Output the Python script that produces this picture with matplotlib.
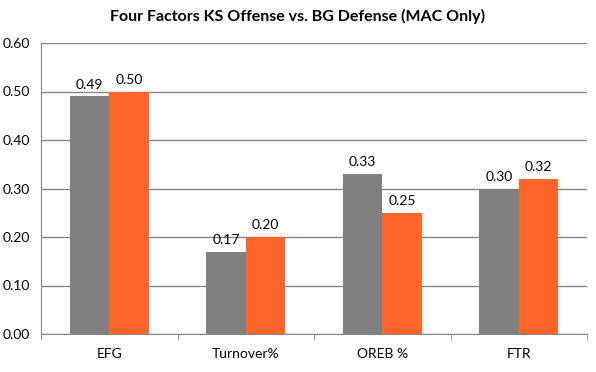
import matplotlib
matplotlib.use('Agg')
import matplotlib.pyplot as plt
import numpy as np

categories = ['EFG', 'Turnover%', 'OREB %', 'FTR']
ks_offense = [0.49, 0.17, 0.33, 0.30]
bg_defense = [0.50, 0.20, 0.25, 0.32]
yticks = [0.0, 0.1, 0.2, 0.3, 0.4, 0.5, 0.6]

plt.rcParams['font.family'] = ['Lato', 'DejaVu Sans']

fig = plt.figure(figsize=(5.96, 3.72), dpi=100)
ax = fig.add_axes([41/596, 1-334/372, 546/596, 291/372])

x = np.arange(len(categories))
w = 0.29
gray = '#808080'
orange = '#FF6529'
b1 = ax.bar(x - w/2, ks_offense, w, color=gray, zorder=3)
b2 = ax.bar(x + w/2, bg_defense, w, color=orange, zorder=3)
for bars, vals in ((b1, ks_offense), (b2, bg_defense)):
    for b, v in zip(bars, vals):
        ax.text(b.get_x() + b.get_width()/2, v + 0.012, '%.2f' % v,
                ha='center', va='bottom', fontsize=10, color='black')

ax.set_xlim(-0.5, len(categories) - 0.5)
ax.set_ylim(0, 0.6)
ax.set_yticks(yticks)
ax.set_yticklabels(['%.2f' % t for t in yticks], fontsize=10)
ax.yaxis.grid(True, color='#868686', linewidth=1, zorder=0)
ax.tick_params(axis='y', length=0, pad=8)

ax.set_xticks(x)
ax.set_xticklabels(categories, fontsize=10)
ax.tick_params(axis='x', length=0, pad=10)
ax.set_xticks(np.arange(len(categories) + 1) - 0.5, minor=True)
ax.tick_params(axis='x', which='minor', length=4, color='#868686', direction='out')

for s in ['top', 'right']:
    ax.spines[s].set_visible(False)
for s in ['left', 'bottom']:
    ax.spines[s].set_color('#868686')

fig.text(0.5, 1 - 16/372, 'Four Factors KS Offense vs. BG Defense (MAC Only)',
         ha='center', va='center', fontsize=11.5, fontweight='bold')

plt.savefig('out.png', dpi=100)
